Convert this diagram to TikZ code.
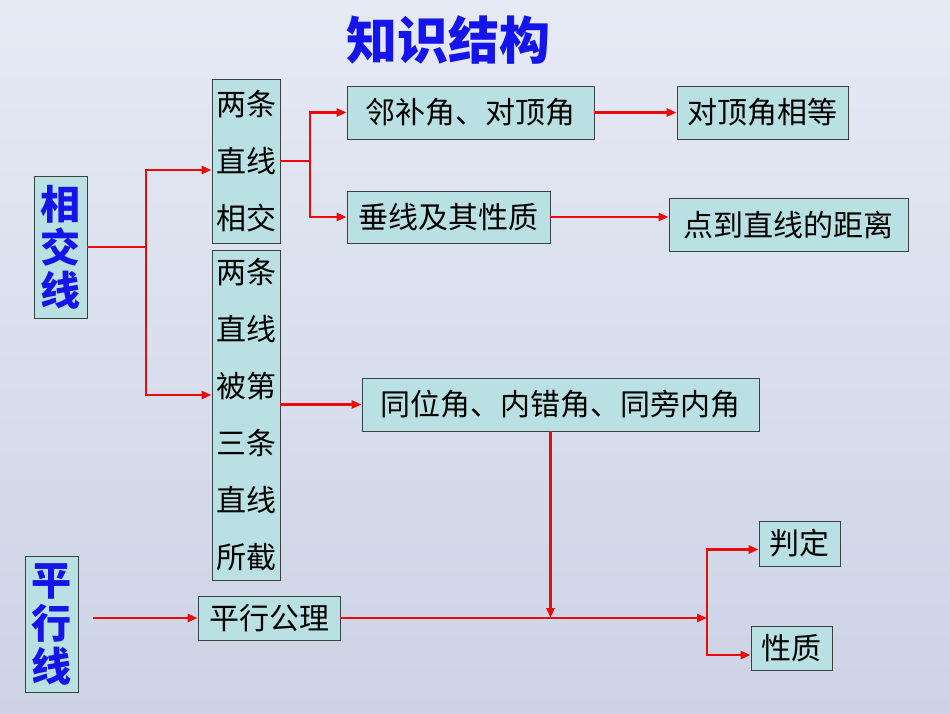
\documentclass[tikz,border=0pt]{standalone}
\usepackage{fontspec}
\setmainfont{Noto Sans CJK SC}
\usetikzlibrary{positioning,arrows.meta}
\definecolor{boxfill}{RGB}{185,224,226}
\definecolor{linkred}{RGB}{235,10,10}
\definecolor{headblue}{RGB}{20,20,235}
\definecolor{bgtop}{RGB}{230,234,245}
\definecolor{bgbot}{RGB}{204,211,229}

\tikzset{
  box/.style={draw=black!75, fill=boxfill, line width=0.8pt, inner sep=0pt,
    font=\fontsize{30}{57}\selectfont},
  vbox/.style={box, align=center},
  bluebox/.style={box, align=center, text=headblue,
    font=\bfseries\fontsize{40}{43}\selectfont},
  link/.style={draw=linkred, line width=2.5pt},
  arr/.style={link, -{Triangle[length=10pt,width=8pt]}},
}

\begin{document}
\begin{tikzpicture}[x=1pt, y=-1pt]
    % Background
    \shade[top color=bgtop, bottom color=bgbot] (0,0) rectangle (950,713);
    \useasboundingbox (0,0) rectangle (950,713);

    % Title
    \node[text=headblue, font=\bfseries\fontsize{51}{51}\selectfont] (title) at (448,40) {知识结构};

    % Left headings
    \node[bluebox, minimum width=53, minimum height=142] (XJX) at (60.5,247) {相\\交\\线};
    \node[bluebox, minimum width=53, minimum height=136] (PXX) at (51.5,624) {平\\行\\线};

    % Vertical boxes
    \node[vbox, minimum width=68, minimum height=164] (A) at (246,161) {两条\\直线\\相交};
    \node[vbox, minimum width=68, minimum height=330] (B) at (246,415) {两条\\直线\\被第\\三条\\直线\\所截};

    % Right boxes
    \node[box, minimum width=247, minimum height=53] (LB) at (470.5,112.5) {邻补角、对顶角};
    \node[box, minimum width=171, minimum height=53] (DD) at (762.5,112.5) {对顶角相等};
    \node[box, minimum width=203, minimum height=52] (CX) at (448.5,217) {垂线及其性质};
    \node[box, minimum width=239, minimum height=53] (JL) at (788.5,224.5) {点到直线的距离};
    \node[box, minimum width=397, minimum height=53] (TW) at (560.5,404.5) {同位角、内错角、同旁内角};
    \node[box, minimum width=142, minimum height=44] (GL) at (269,618) {平行公理};
    \node[box, minimum width=81, minimum height=45] (PD) at (799.5,543.5) {判定};
    \node[box, minimum width=81, minimum height=44] (XZ) at (791.5,648) {性质};

    % Junctions
    \coordinate (j1) at (146,247);
    \coordinate (j2) at (310,161);
    \coordinate (j4) at ([xshift=-10]TW.south |- GL.east);
    \coordinate (j5) at (707,618);

    % Connections: intersecting lines
    \draw[link] (XJX.east) -- (j1);
    \draw[arr] (j1) |- ([yshift=-9]A.west);
    \draw[arr] (j1) |- ([yshift=20]B.west);
    \draw[link] (A.east) -- (j2);
    \draw[arr] (j2) |- (LB.west);
    \draw[arr] (j2) |- (CX.west);
    \draw[arr] (LB.east) -- (DD.west);
    \draw[arr] (CX.east) -- (CX.east -| JL.west);
    \draw[arr] (TW.west -| B.east) -- (TW.west);

    % Connections: parallel lines
    \draw[arr, shorten <=15pt] (PXX.east |- GL.west) -- (GL.west);
    \draw[arr] (GL.east) -- (j5);
    \draw[arr] ([xshift=-10]TW.south) -- (j4);
    \draw[arr] (j5) |- ([yshift=-6]PD.west);
    \draw[arr] (j5) |- ([yshift=-7]XZ.west);
\end{tikzpicture}
\end{document}
